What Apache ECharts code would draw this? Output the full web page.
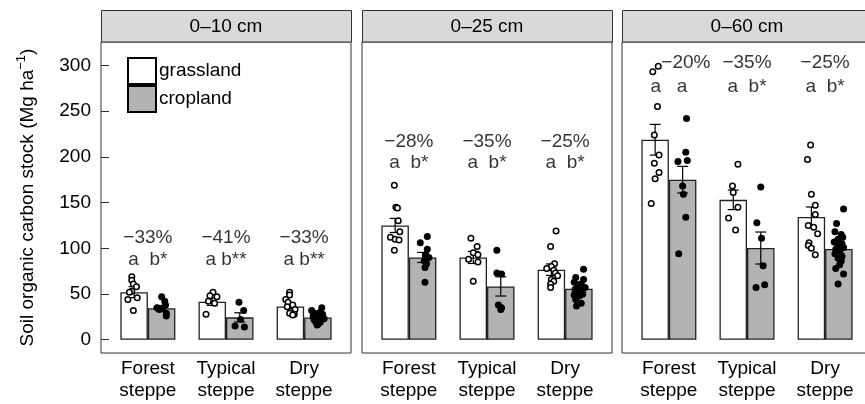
<!DOCTYPE html>
<html><head><meta charset="utf-8">
<script src="https://cdn.jsdelivr.net/npm/echarts@6/dist/echarts.min.js"></script>
<style>html,body{margin:0;padding:0;background:#fff}#c{width:865px;height:404px}</style>
</head><body><div id="c"></div>
<script>
// ---------------- data ----------------
const depths = ['0–10 cm', '0–25 cm', '0–60 cm'];
const categories = ['Forest\nsteppe', 'Typical\nsteppe', 'Dry\nsteppe'];
const landUses = ['grassland', 'cropland'];
const yTicks = [0, 50, 100, 150, 200, 250, 300];

// mean SOC stock [depth][category]
const grassMean = [[52, 41.5, 36.3], [125, 90, 76.6], [218.7, 153, 134.2]];
const cropMean  = [[34.5, 24.5, 24.3], [90, 58.3, 55.8], [175, 100.3, 99.2]];
// standard errors [depth][category]
const grassSE = [[6, 4, 2.5], [7.7, 6.6, 6.3], [16.8, 10.7, 11]];
const cropSE  = [[3, 5, 1.5], [5.5, 10.5, 2], [14.6, 17.5, 4.5]];

// individual plots [category][...]
const grassPts_0_10 = [[69, 65, 61, 58, 53, 52, 46, 44, 32], [52, 48, 47, 42, 40, 28], [52, 49, 44, 41, 38, 36, 33, 31, 29, 28, 27]];
const cropPts_0_10  = [[47, 42, 38, 35, 34, 33, 29, 26], [41, 32, 22, 15, 14], [35, 32, 30, 29, 28, 27, 26, 25, 24, 23, 22, 21, 20, 19, 17, 16]];
const grassPts_0_25 = [[169, 145, 144, 130, 118, 112, 110, 109, 98], [111, 102, 95, 93, 88, 85, 64], [119, 102, 83, 80, 78, 76, 73, 70, 66, 64, 61, 57]];
const cropPts_0_25  = [[113, 106, 99, 93, 90, 86, 83, 79, 63], [98, 73, 72, 38, 35, 33], [77, 68, 66, 63, 61, 60, 58, 57, 55, 54, 52, 50, 49, 48, 46, 44, 40, 37]];
const grassPts_0_60 = [[299, 293, 255, 224, 202, 193, 183, 176, 149], [192, 168, 161, 145, 133, 120], [213, 197, 159, 147, 137, 125, 123, 116, 106, 103, 100, 93]];
const cropPts_0_60  = [[242, 205, 196, 195, 168, 159, 134, 94], [167, 128, 111, 81, 57, 60], [143, 127, 118, 115, 112, 110, 107, 105, 103, 101, 99, 97, 94, 91, 89, 86, 82, 78, 72, 61]];

// horizontal jitter of the points (hundredths of a category step)
const grassJit_0_10 = [[-3, -3, -1, 3, -3, -6, 4, -8, -1], [1, -3, 6, -5, 3, -8], [-1, -1, -6, -3, 3, -4, 6, 0, -1, 5, 3]];
const cropJit_0_10  = [[0, 4, 5, -6, 1, -3, 6, 6], [-1, 5, 1, -6, 6], [5, -8, 3, -4, 6, 0, -6, 4, -1, 8, -5, 1, -3, 3, 0, -1]];
const grassJit_0_25 = [[-1, 1, 3, 4, 6, -6, 0, 5, -1], [-3, 5, 0, 6, -6, 6, 0], [6, -1, 4, 0, -6, 3, 5, 8, 0, 3, -1, -1]];
const cropJit_0_25  = [[6, -3, 6, 4, 8, 2, 5, 3, 3], [-5, -5, 1, -3, 1, 0], [6, -4, 6, -6, 3, -1, 0, 8, -5, 4, -3, 5, -6, 1, -4, -4, 3, -3]];
const grassJit_0_60 = [[4, -3, 3, -1, 5, -1, 5, 0, -5], [6, -1, 0, 6, -6, 3], [-1, -5, 0, 5, 5, -4, 3, 8, -3, -4, 0, 5]];
const cropJit_0_60  = [[5, 4, 6, -6, 0, 1, 4, -5], [0, -5, 1, 3, -6, 5], [6, -3, -5, 3, 5, -1, -6, 4, 0, 6, -4, 1, -5, 4, -1, 3, 1, -4, 6, -1]];

// annotations
const pctLabels = [['−33%', '−41%', '−33%'], ['−28%', '−35%', '−25%'], ['−20%', '−35%', '−25%']];
const letterLabels = [['a  b*', 'a b**', 'a b**'], ['a  b*', 'a  b*', 'a  b*'], ['a   a', 'a  b*', 'a  b*']];
const pctY = [111, 217, 303];
const letterY = [88, 193, 277];

const grassPts = [grassPts_0_10, grassPts_0_25, grassPts_0_60];
const cropPts = [cropPts_0_10, cropPts_0_25, cropPts_0_60];
const grassJit = [grassJit_0_10, grassJit_0_25, grassJit_0_60];
const cropJit = [cropJit_0_10, cropJit_0_25, cropJit_0_60];

// ---------------- layout / style ----------------
const W = 250, TOP = 42, H = 311;
const LEFTS = [101, 362, 622];
const BAR_W = 27.5;
const UNIT = W / 3.2;
const HALF = BAR_W / 2 / UNIT;
const FONT = '"Liberation Sans", Arial, Helvetica, sans-serif';
const FS = 19;

const grid = [], xAxis = [], yAxis = [], series = [], graphic = [];

depths.forEach((dep, d) => {
  grid.push({ left: LEFTS[d], width: W, top: TOP, height: H, show: true,
    outerBoundsMode: 'none', containLabel: false,
    borderColor: '#333', borderWidth: 1, backgroundColor: 'rgba(0,0,0,0)' });

  xAxis.push({ type: 'value', gridIndex: d, min: 0.4, max: 3.6,
    axisLine: { show: false }, splitLine: { show: false },
    axisTick: { show: true, inside: true, length: 8, customValues: [1, 2, 3], lineStyle: { color: '#333' } },
    axisLabel: { customValues: [1, 2, 3], formatter: v => categories[Math.round(v) - 1],
      fontSize: FS, lineHeight: 22, color: '#000', fontFamily: FONT, margin: 5 } });

  yAxis.push({ type: 'value', gridIndex: d, min: -14.5, max: 325.6, show: d === 0,
    axisLine: { show: false }, splitLine: { show: false },
    axisTick: { show: true, inside: true, length: 8, customValues: yTicks, lineStyle: { color: '#333' } },
    axisLabel: { customValues: yTicks, fontSize: FS, color: '#000', fontFamily: FONT, margin: 10 },
    name: d === 0 ? '{n|Soil organic carbon stock (Mg ha}{s|−1}{n|)}' : '',
    nameLocation: 'middle', nameGap: 60, nameRotate: 90,
    nameTextStyle: { rich: {
      n: { fontSize: FS, fontFamily: FONT, color: '#000', lineHeight: 26 },
      s: { fontSize: 13, fontFamily: FONT, color: '#000', verticalAlign: 'top', lineHeight: 14 } } } });

  // bars
  series.push({ type: 'bar', name: landUses[0], xAxisIndex: d, yAxisIndex: d, barWidth: BAR_W, barGap: '0%',
    data: grassMean[d].map((v, c) => [c + 1, v]), z: 2, silent: true,
    itemStyle: { color: '#ffffff', borderColor: '#222', borderWidth: 1.3 } });
  series.push({ type: 'bar', name: landUses[1], xAxisIndex: d, yAxisIndex: d, barWidth: BAR_W, barGap: '0%',
    data: cropMean[d].map((v, c) => [c + 1, v]), z: 2, silent: true,
    itemStyle: { color: '#b3b3b3', borderColor: '#222', borderWidth: 1.3 } });

  // error bars
  const eb = [];
  for (let c = 0; c < 3; c++) {
    eb.push([c + 1 - HALF, grassMean[d][c], grassSE[d][c]]);
    eb.push([c + 1 + HALF, cropMean[d][c], cropSE[d][c]]);
  }
  series.push({ type: 'custom', name: 'se' + d, xAxisIndex: d, yAxisIndex: d, z: 3, silent: true,
    data: eb, encode: { x: 0, y: 1 },
    renderItem: (params, api) => {
      const x = api.value(0), m = api.value(1), s = api.value(2);
      const t = api.coord([x, m + s]), b = api.coord([x, m - s]);
      const cw = 5.5, st = { stroke: '#000', lineWidth: 1.2 };
      return { type: 'group', children: [
        { type: 'line', shape: { x1: t[0], y1: t[1], x2: b[0], y2: b[1] }, style: st },
        { type: 'line', shape: { x1: t[0] - cw, y1: t[1], x2: t[0] + cw, y2: t[1] }, style: st },
        { type: 'line', shape: { x1: b[0] - cw, y1: b[1], x2: b[0] + cw, y2: b[1] }, style: st }
      ] };
    } });

  // individual points
  const gp = [], cp = [];
  for (let c = 0; c < 3; c++) {
    grassPts[d][c].forEach((v, i) => gp.push([c + 1 - HALF + grassJit[d][c][i] / 100, v]));
    cropPts[d][c].forEach((v, i) => cp.push([c + 1 + HALF + cropJit[d][c][i] / 100, v]));
  }
  series.push({ type: 'scatter', name: 'gpts' + d, xAxisIndex: d, yAxisIndex: d, z: 4, silent: true,
    symbol: 'circle', symbolSize: 5.5, data: gp,
    itemStyle: { color: '#fff', borderColor: '#000', borderWidth: 1.5, opacity: 1 } });
  series.push({ type: 'scatter', name: 'cpts' + d, xAxisIndex: d, yAxisIndex: d, z: 4, silent: true,
    symbol: 'circle', symbolSize: 7, data: cp,
    itemStyle: { color: '#000', opacity: 1 } });

  // annotations
  const ann = [];
  for (let c = 0; c < 3; c++) {
    const item = { name: pctLabels[d][c], value: [c + 1, pctY[d]] };
    if (d === 2 && c === 0) item.label = { offset: [17, 0] };
    ann.push(item);
    ann.push({ name: letterLabels[d][c], value: [c + 1, letterY[d]] });
  }
  series.push({ type: 'scatter', name: 'ann' + d, xAxisIndex: d, yAxisIndex: d, z: 5, silent: true,
    symbolSize: 0, data: ann,
    label: { show: true, position: 'inside', formatter: '{b}', fontSize: FS, fontFamily: FONT, color: '#000' } });

  // facet strip
  graphic.push({ type: 'rect', z: 10, shape: { x: LEFTS[d] + 0.5, y: 10.5, width: W, height: 31.5 },
    style: { fill: '#d9d9d9', stroke: '#333', lineWidth: 1 } });
  graphic.push({ type: 'text', z: 11, x: LEFTS[d] + W / 2, y: 27,
    style: { text: dep, fontSize: FS, fontFamily: FONT, fill: '#000',
      align: 'center', verticalAlign: 'middle', textAlign: 'center', textVerticalAlign: 'middle' } });
});

const chart = echarts.init(document.getElementById('c'), null, { renderer: 'canvas' });
chart.setOption({
  animation: false,
  backgroundColor: '#fff',
  grid, xAxis, yAxis, series, graphic,
  legend: { data: landUses, orient: 'vertical', left: 127, top: 57, itemWidth: 28, itemHeight: 26,
    itemGap: 0, icon: 'rect', padding: 0, selectedMode: false,
    itemStyle: { borderColor: '#000', borderWidth: 2 },
    textStyle: { fontSize: FS, fontFamily: FONT, color: '#000', padding: [0, 0, 0, -2] } }
});
</script>
</body></html>
